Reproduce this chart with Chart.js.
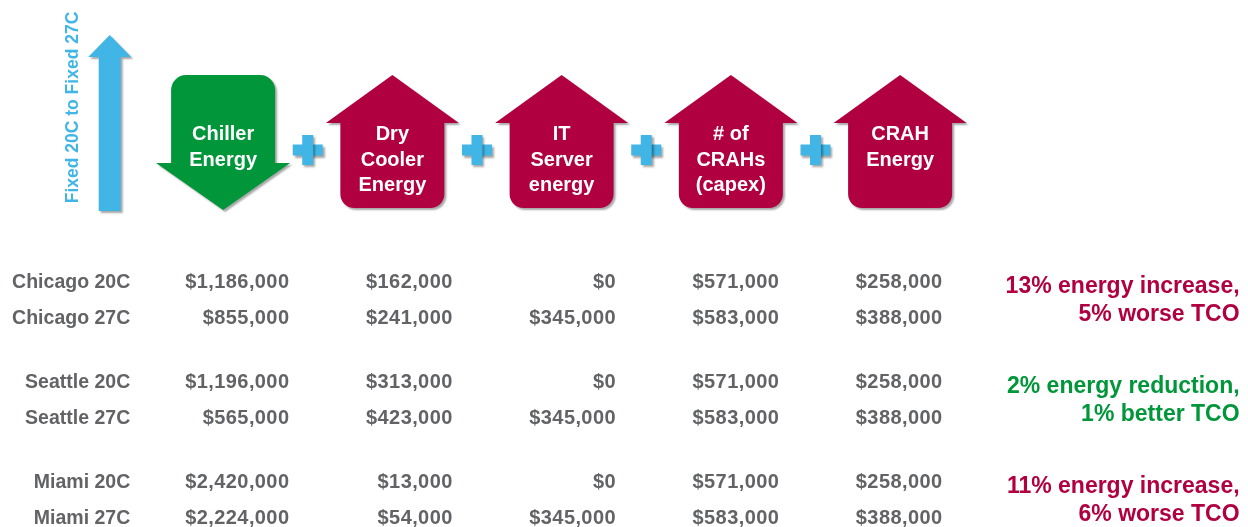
<!DOCTYPE html>
<html>
<head>
<meta charset="utf-8">
<script src="https://cdn.jsdelivr.net/npm/chart.js@4.4.1/dist/chart.umd.min.js"></script>
<style>
  html, body { margin: 0; padding: 0; background: #fff; }
  #wrap { width: 1248px; height: 527px; position: relative; }
</style>
</head>
<body>
<div id="wrap"><canvas id="tcoChart"></canvas></div>
<script>
// Table rows
const rowLabels = ['Chicago 20C', 'Chicago 27C', 'Seattle 20C', 'Seattle 27C', 'Miami 20C', 'Miami 27C'];

// Column headers drawn inside the arrows, and which way each arrow points
const columnHeaders = [['Chiller', 'Energy'], ['Dry', 'Cooler', 'Energy'], ['IT', 'Server', 'energy'], ['# of', 'CRAHs', '(capex)'], ['CRAH', 'Energy']];
const columnDirection = ['down', 'up', 'up', 'up', 'up'];

// Costs in $
const chillerEnergy = [1186000, 855000, 1196000, 565000, 2420000, 2224000];
const dryCoolerEnergy = [162000, 241000, 313000, 423000, 13000, 54000];
const itServerEnergy = [0, 345000, 0, 345000, 0, 345000];
const crahCapex = [571000, 583000, 571000, 583000, 571000, 583000];
const crahEnergy = [258000, 388000, 258000, 388000, 258000, 388000];

// One summary per city
const summaryLines = [['13% energy increase,', '5% worse TCO'], ['2% energy reduction,', '1% better TCO'], ['11% energy increase,', '6% worse TCO']];
const summaryTone = ['worse', 'better', 'worse'];
const changeLabel = 'Fixed 20C to Fixed 27C';

const RED = '#b1003f';
const GREEN = '#009639';
const BLUE = '#41b6e6';
const GRAY = '#626366';
const FONT = '"Liberation Sans", Arial, sans-serif';

// rows come in pairs, with a gap between cities
const GROUP_GAP = 2.745;
const rowY = rowLabels.map((_, i) => Math.floor(i / 2) * GROUP_GAP + (i % 2));
const LABEL_X = 0.025;
const SUMMARY_X = 6.82;

const valueSeries = [chillerEnergy, dryCoolerEnergy, itServerEnergy, crahCapex, crahEnergy];

function fmt(v) {
    return '$' + v.toLocaleString('en-US');
}

function shadowOn(ctx) {
    ctx.shadowColor = 'rgba(0,0,0,0.35)';
    ctx.shadowBlur = 2;
    ctx.shadowOffsetX = 2;
    ctx.shadowOffsetY = 2;
}

function upArrow(ctx, cx, top, shoulder, bottom, bodyHalf, headHalf, r) {
    ctx.beginPath();
    ctx.moveTo(cx, top);
    ctx.lineTo(cx + headHalf, shoulder);
    ctx.lineTo(cx + bodyHalf, shoulder);
    ctx.lineTo(cx + bodyHalf, bottom - r);
    ctx.arcTo(cx + bodyHalf, bottom, cx + bodyHalf - r, bottom, r);
    ctx.lineTo(cx - bodyHalf + r, bottom);
    ctx.arcTo(cx - bodyHalf, bottom, cx - bodyHalf, bottom - r, r);
    ctx.lineTo(cx - bodyHalf, shoulder);
    ctx.lineTo(cx - headHalf, shoulder);
    ctx.closePath();
    ctx.fill();
}

function downArrow(ctx, cx, top, shoulder, tip, bodyHalf, headHalf, r) {
    ctx.beginPath();
    ctx.moveTo(cx, tip);
    ctx.lineTo(cx - headHalf, shoulder);
    ctx.lineTo(cx - bodyHalf, shoulder);
    ctx.lineTo(cx - bodyHalf, top + r);
    ctx.arcTo(cx - bodyHalf, top, cx - bodyHalf + r, top, r);
    ctx.lineTo(cx + bodyHalf - r, top);
    ctx.arcTo(cx + bodyHalf, top, cx + bodyHalf, top + r, r);
    ctx.lineTo(cx + bodyHalf, shoulder);
    ctx.lineTo(cx + headHalf, shoulder);
    ctx.closePath();
    ctx.fill();
}

function plus(ctx, cx, cy, size, thick) {
    ctx.fillRect(cx - size / 2, cy - thick / 2, size, thick);
    ctx.fillRect(cx - thick / 2, cy - size / 2, thick, size);
}

const tablePlugin = {
    id: 'tablePlugin',
    afterDatasetsDraw(chart) {
        const ctx = chart.ctx;
        const xs = chart.scales.x;
        const xh = chart.scales.xHead;
        const ys = chart.scales.y;
        const top = chart.chartArea.top;

        // header: arrows and plus signs
        ctx.save();
        columnHeaders.forEach((lines, c) => {
            const cx = xh.getPixelForValue(c + 1);
            ctx.save();
            shadowOn(ctx);
            if (columnDirection[c] === 'down') {
                ctx.fillStyle = GREEN;
                downArrow(ctx, cx, top + 75, top + 163, top + 210, 52, 67, 15);
            } else {
                ctx.fillStyle = RED;
                upArrow(ctx, cx, top + 75, top + 123, top + 208, 52, 66.5, 14);
            }
            if (c < columnHeaders.length - 1) {
                const nx = xh.getPixelForValue(c + 2);
                ctx.fillStyle = BLUE;
                plus(ctx, (cx + nx) / 2, top + 150, 30, 11);
            }
            ctx.restore();
            ctx.fillStyle = '#fff';
            ctx.font = 'bold 20px ' + FONT;
            ctx.textAlign = 'center';
            ctx.textBaseline = 'alphabetic';
            lines.forEach((t, j) => {
                ctx.fillText(t, cx, top + 133 + j * 25.5 + 7.2);
            });
        });

        // blue "change" arrow with rotated label
        const bx = xh.getPixelForValue(0.33);
        ctx.save();
        shadowOn(ctx);
        ctx.fillStyle = BLUE;
        upArrow(ctx, bx, top + 35, top + 57, top + 211, 11, 21.5, 0);
        ctx.restore();
        ctx.save();
        ctx.translate(xh.getPixelForValue(0.115), top + 107.5);
        ctx.rotate(-Math.PI / 2);
        ctx.fillStyle = BLUE;
        ctx.font = 'bold 17.5px ' + FONT;
        ctx.textAlign = 'center';
        ctx.textBaseline = 'middle';
        ctx.fillText(changeLabel, 0, 0);
        ctx.restore();

        // row labels and values
        ctx.fillStyle = GRAY;
        ctx.textAlign = 'right';
        ctx.textBaseline = 'alphabetic';
        ctx.font = 'bold 19.5px ' + FONT;
        rowLabels.forEach((label, i) => {
            ctx.fillText(label, xs.getPixelForValue(LABEL_X), ys.getPixelForValue(rowY[i]) + 7.2);
        });
        ctx.font = 'bold 20px ' + FONT;
        ctx.letterSpacing = '0.4px';
        chart.data.datasets.forEach((ds, d) => {
            const meta = chart.getDatasetMeta(d);
            meta.data.forEach((pt, i) => {
                ctx.fillText(fmt(ds.data[i].v), pt.x, pt.y + 7.2);
            });
        });
        ctx.letterSpacing = '0px';

        // summaries
        ctx.font = 'bold 23px ' + FONT;
        summaryLines.forEach((lines, g) => {
            ctx.fillStyle = summaryTone[g] === 'better' ? GREEN : RED;
            const mid = ys.getPixelForValue(g * GROUP_GAP + 0.5);
            lines.forEach((t, j) => {
                ctx.fillText(t, xs.getPixelForValue(SUMMARY_X), mid + (j - 0.5) * 28 + 8.2);
            });
        });
        ctx.restore();
    }
};

new Chart(document.getElementById('tcoChart'), {
    type: 'scatter',
    data: {
        datasets: valueSeries.map((series, c) => ({
            label: columnHeaders[c].join(' '),
            data: series.map((v, i) => ({ x: c + 1, y: rowY[i], v: v })),
            pointRadius: 0,
            pointHoverRadius: 0
        }))
    },
    options: {
        responsive: true,
        maintainAspectRatio: false,
        animation: false,
        events: [],
        layout: { padding: 0 },
        plugins: {
            legend: { display: false },
            tooltip: { enabled: false }
        },
        scales: {
            x: { type: 'linear', min: -0.7727, max: 6.8715, display: false },
            xHead: { type: 'linear', axis: 'x', position: 'top', min: -0.3182, max: 7.0555, display: false },
            y: { type: 'linear', reverse: true, min: -7.714, max: 6.764, display: false }
        }
    },
    plugins: [tablePlugin]
});
</script>
</body>
</html>
